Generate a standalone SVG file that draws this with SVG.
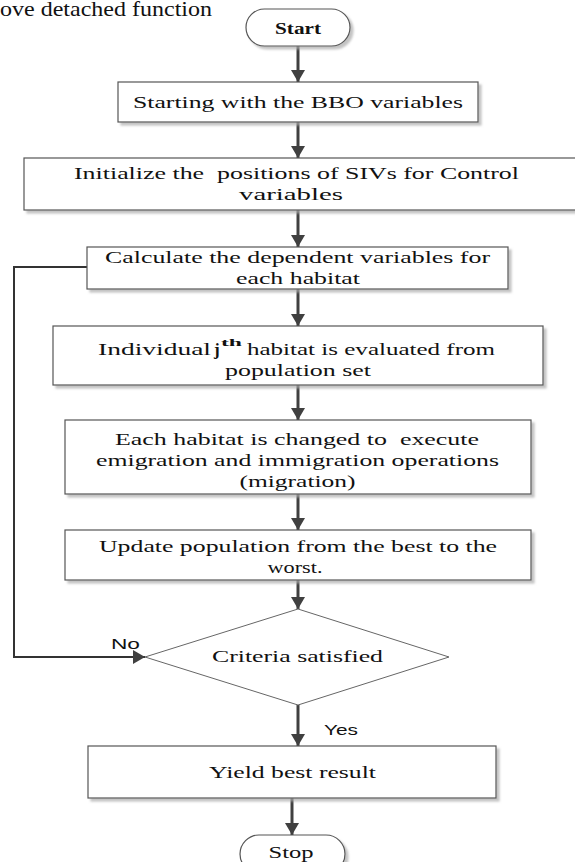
<svg xmlns="http://www.w3.org/2000/svg" width="575" height="862" viewBox="0 0 575 862">
<style>
  .box{fill:#fff;stroke:#555;stroke-width:1.2;filter:url(#sh)}
  .t{font-family:"Liberation Serif","Times New Roman",serif;font-size:17px;fill:#111;text-anchor:middle}
  .ts{font-family:"Liberation Serif","Times New Roman",serif;font-size:17px;fill:#111}
  .lbl{font-family:"Liberation Sans",Arial,sans-serif;font-size:14px;fill:#111}
  .arr{stroke:#404040;stroke-width:3;fill:none;marker-end:url(#ah)}
  .fb{stroke:#333;stroke-width:2;fill:none;marker-end:url(#ah)}
</style>
<defs>
  <filter id="sh" x="-5%" y="-10%" width="115%" height="130%">
    <feDropShadow dx="3" dy="3" stdDeviation="1" flood-color="#aaa" flood-opacity="0.7"/>
  </filter>
  <marker id="ah" markerUnits="userSpaceOnUse" markerWidth="13" markerHeight="14" refX="12" refY="7" orient="auto">
    <path d="M0,0 L12,7 L0,14 z" fill="#404040"/>
  </marker>
</defs>
<rect width="575" height="862" fill="#fff"/>
<text class="ts" x="0" y="16" style="font-size:21px" textLength="212" lengthAdjust="spacingAndGlyphs">ove detached function</text>

<g id="connectors">
  <line class="arr" x1="298" y1="46" x2="298" y2="82"/>
  <line class="arr" x1="298" y1="122" x2="298" y2="158"/>
  <line class="arr" x1="298" y1="210" x2="298" y2="247"/>
  <line class="arr" x1="298" y1="289" x2="298" y2="326"/>
  <line class="arr" x1="298" y1="385" x2="298" y2="420"/>
  <line class="arr" x1="298" y1="494" x2="298" y2="530"/>
  <line class="arr" x1="298" y1="580" x2="298" y2="609"/>
  <line class="arr" x1="298" y1="705" x2="298" y2="746"/>
  <line class="arr" x1="292" y1="798" x2="292" y2="835"/>
  <polyline class="fb" points="87,267 14,267 14,657 145,657"/>
  <text class="lbl" x="111" y="649" textLength="29" lengthAdjust="spacingAndGlyphs">No</text>
  <text class="lbl" x="324" y="735" textLength="34" lengthAdjust="spacingAndGlyphs">Yes</text>
</g>

<g id="start">
  <rect class="box" x="246" y="9" width="104" height="37" rx="18.5"/>
  <text class="t" x="298" y="34" font-weight="bold" textLength="46" lengthAdjust="spacingAndGlyphs">Start</text>
</g>
<g id="step1">
  <rect class="box" x="118" y="82" width="360" height="40"/>
  <text class="t" x="298" y="108" textLength="330" lengthAdjust="spacingAndGlyphs">Starting with the BBO variables</text>
</g>
<g id="step2">
  <rect class="box" x="24" y="158" width="560" height="52"/>
  <text class="t" x="296.5" y="179" xml:space="preserve" textLength="445" lengthAdjust="spacingAndGlyphs">Initialize the  positions of SIVs for Control</text>
  <text class="t" x="291" y="200" textLength="104" lengthAdjust="spacingAndGlyphs">variables</text>
</g>
<g id="step3">
  <rect class="box" x="87" y="247" width="421" height="42"/>
  <text class="t" x="297.5" y="263" textLength="385" lengthAdjust="spacingAndGlyphs">Calculate the dependent variables for</text>
  <text class="t" x="298" y="284" textLength="124" lengthAdjust="spacingAndGlyphs">each habitat</text>
</g>
<g id="step4">
  <rect class="box" x="53" y="326" width="490" height="59"/>
  <text class="ts" x="98" y="355" textLength="113" lengthAdjust="spacingAndGlyphs">Individual</text>
  <text class="ts" x="214" y="355" font-weight="bold">j</text>
  <text class="ts" x="221" y="346" font-weight="bold" style="font-size:11px" textLength="21" lengthAdjust="spacingAndGlyphs">th</text>
  <text class="ts" x="247" y="355" textLength="248" lengthAdjust="spacingAndGlyphs">habitat is evaluated from</text>
  <text class="t" x="298" y="376" textLength="146" lengthAdjust="spacingAndGlyphs">population set</text>
</g>
<g id="step5">
  <rect class="box" x="65" y="420" width="466" height="74"/>
  <text class="t" x="297" y="445" xml:space="preserve" textLength="364" lengthAdjust="spacingAndGlyphs">Each habitat is changed to  execute</text>
  <text class="t" x="297.5" y="466" textLength="403" lengthAdjust="spacingAndGlyphs">emigration and immigration operations</text>
  <text class="t" x="297.5" y="487" textLength="116" lengthAdjust="spacingAndGlyphs">(migration)</text>
</g>
<g id="step6">
  <rect class="box" x="65" y="530" width="466" height="50"/>
  <text class="t" x="298" y="552" textLength="398" lengthAdjust="spacingAndGlyphs">Update population from the best to the</text>
  <text class="t" x="295" y="573" textLength="55" lengthAdjust="spacingAndGlyphs">worst.</text>
</g>
<g id="decision">
  <polygon points="298,609 449,657 298,705 145,657" fill="#fff" stroke="#666" stroke-width="1"/>
  <text class="t" x="297.5" y="662" textLength="171" lengthAdjust="spacingAndGlyphs">Criteria satisfied</text>
</g>
<g id="result">
  <rect class="box" x="88" y="746" width="408" height="52"/>
  <text class="t" x="292.5" y="778" textLength="167" lengthAdjust="spacingAndGlyphs">Yield best result</text>
</g>
<g id="stop">
  <rect class="box" x="240" y="835" width="105" height="38" rx="19"/>
  <text class="t" x="291" y="858" textLength="45" lengthAdjust="spacingAndGlyphs">Stop</text>
</g>
</svg>
